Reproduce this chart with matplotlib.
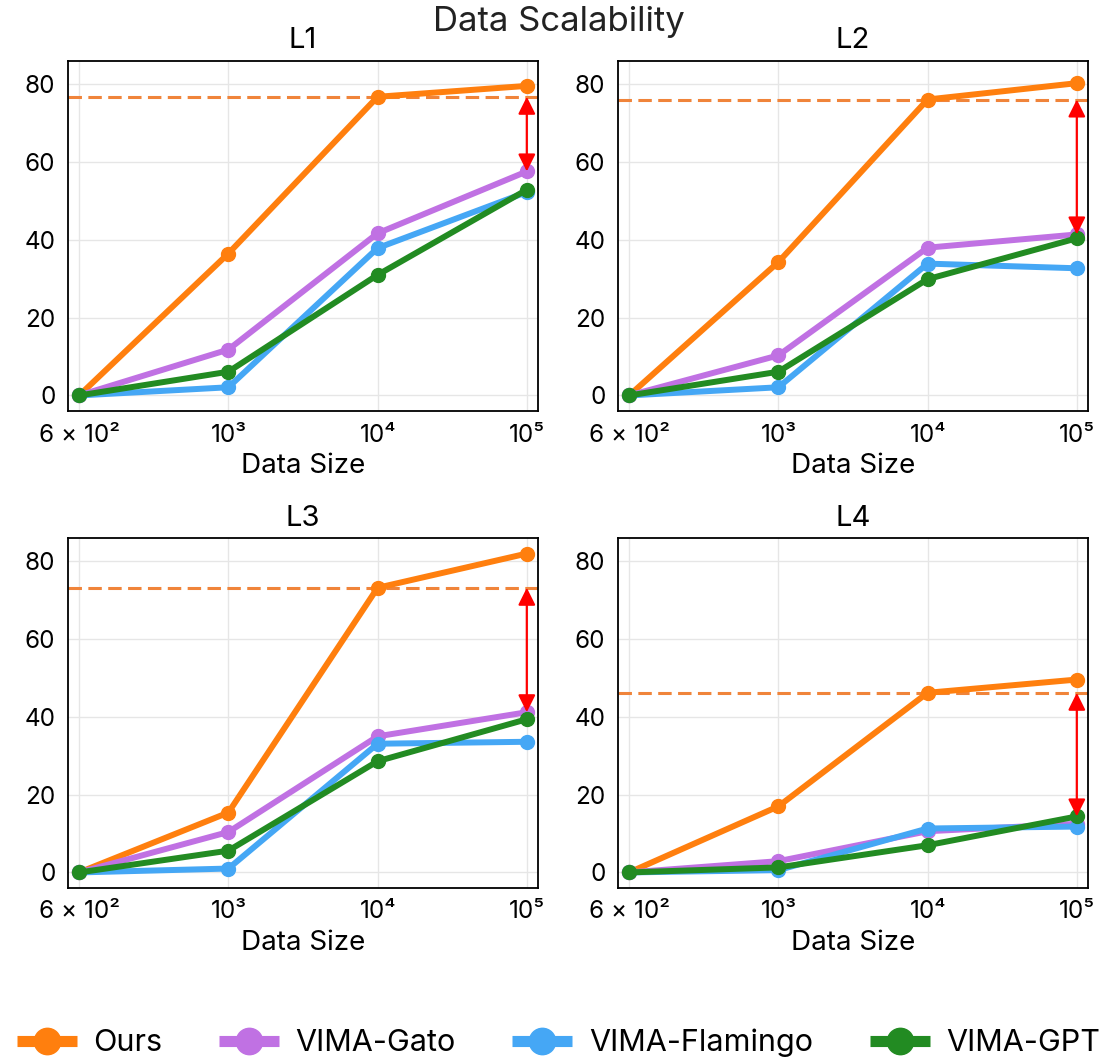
import matplotlib
matplotlib.use("Agg")
import numpy as np
import matplotlib.pyplot as plt

plt.rcParams["font.family"] = ["Inter", "DejaVu Sans"]

x_labels = ["6 × 10²", "10³", "10⁴", "10⁵"]
levels = ["L1", "L2", "L3", "L4"]
methods = ["Ours", "VIMA-Gato", "VIMA-Flamingo", "VIMA-GPT"]
colors = ["#ff7f0e", "#c071e3", "#45a7f5", "#228b22"]

# success rate per level, one list per method (6e2, 1e3, 1e4, 1e5)
ours = [[0, 36.5, 76.8, 79.6],
        [0, 34.3, 76.1, 80.3],
        [0, 15.4, 73.2, 82.0],
        [0, 17.0, 46.2, 49.6]]
gato = [[0, 11.8, 41.7, 57.6],
        [0, 10.3, 38.0, 41.4],
        [0, 10.4, 35.0, 41.2],
        [0, 2.9, 10.6, 12.5]]
flamingo = [[0, 2.1, 37.9, 52.3],
            [0, 2.1, 33.9, 32.7],
            [0, 1.0, 33.1, 33.6],
            [0, 0.6, 11.3, 11.8]]
gpt = [[0, 6.1, 31.0, 52.9],
       [0, 6.1, 29.9, 40.4],
       [0, 5.6, 28.6, 39.4],
       [0, 1.3, 7.0, 14.4]]

series = [ours, gato, flamingo, gpt]

W, H = 1117, 1061
fig = plt.figure(figsize=(W / 100, H / 100), dpi=100)

boxes = [(68, 61), (618, 61), (68, 538), (618, 538)]
aw, ah = 470, 350

xs = np.arange(len(x_labels))
handles = []
for k, (bx, by) in enumerate(boxes):
    ax = fig.add_axes([bx / W, 1 - (by + ah) / H, aw / W, ah / H])
    for m, (name, col) in enumerate(zip(methods, colors)):
        ln, = ax.plot(xs, series[m][k], color=col, lw=4.3, marker="o",
                      ms=10, label=name, zorder=3 + m)
        if k == 0:
            handles.append(ln)
    # dashed reference = ours at 1e4, arrow shows gap to best baseline at 1e5
    top = ours[k][2]
    ax.axhline(top, color="#f0843a", lw=2.2, ls=(0, (4.4, 2.1)), zorder=2)
    low = max(series[m][k][-1] for m in range(1, 4))
    ax.annotate("", xy=(xs[-1], low), xytext=(xs[-1], top),
                arrowprops=dict(arrowstyle="<|-|>", color="red", lw=1.6,
                                mutation_scale=26, shrinkA=0, shrinkB=0),
                zorder=10)
    ax.set_xlim(-0.075, 3.075)
    ax.set_ylim(-4, 86)
    ax.set_xticks(xs)
    ax.set_xticklabels(x_labels)
    ax.set_yticks([0, 20, 40, 60, 80])
    ax.tick_params(length=0, labelsize=17.5, pad=9)
    ax.grid(True, color="#e6e6e6", lw=1)
    ax.set_axisbelow(True)
    for s in ax.spines.values():
        s.set_color("black")
        s.set_linewidth(1.3)
    ax.set_title(levels[k], fontsize=21, pad=9)
    ax.set_xlabel("Data Size", fontsize=20, labelpad=5)

fig.text(0.5, 1 - 22 / H, "Data Scalability", fontsize=25, ha="center",
         va="center", color="#222222")

leg = fig.legend(handles, methods, loc="center", ncol=4,
                 bbox_to_anchor=(0.5, 18 / H), frameon=False, fontsize=22,
                 handlelength=1.96, handletextpad=0.55, columnspacing=1.85,
                 markerscale=1.9, borderaxespad=0)
for h in leg.legend_handles:
    h.set_linewidth(8)
    h.set_solid_capstyle("butt")

fig.savefig("out.png", dpi=100)
